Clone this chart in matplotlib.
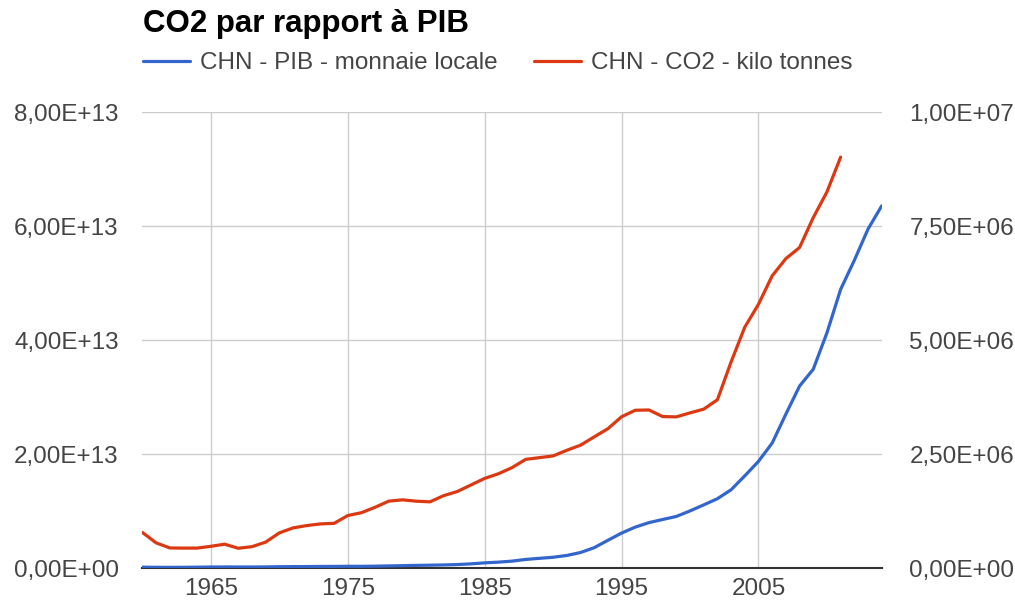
import matplotlib
matplotlib.use("Agg")
import matplotlib.pyplot as plt
import numpy as np

plt.rcParams['font.family'] = ['Liberation Sans', 'DejaVu Sans']

Title = "CO2 par rapport à PIB"
label_pib = "CHN - PIB - monnaie locale"
label_co2 = "CHN - CO2 - kilo tonnes"

# PIB, monnaie locale (1960-2014)
years_pib = np.arange(1960, 2015)
pib = np.array([
    1.457e11, 1.220e11, 1.149e11, 1.233e11, 1.454e11, 1.716e11, 1.868e11, 1.774e11, 1.723e11, 1.938e11,
    2.253e11, 2.426e11, 2.518e11, 2.721e11, 2.790e11, 2.997e11, 2.944e11, 3.202e11, 3.679e11, 4.100e11,
    4.588e11, 4.936e11, 5.373e11, 6.020e11, 7.279e11, 9.016e11, 1.0275e12, 1.2059e12, 1.5043e12, 1.6992e12,
    1.8867e12, 2.2006e12, 2.7194e12, 3.5673e12, 4.8638e12, 6.133e12, 7.1814e12, 7.9715e12, 8.5195e12, 9.0564e12,
    1.0028e13, 1.1086e13, 1.2172e13, 1.3742e13, 1.6184e13, 1.8732e13, 2.1944e13, 2.7023e13, 3.1952e13, 3.4908e13,
    4.1303e13, 4.8930e13, 5.4037e13, 5.9524e13, 6.3600e13,
])

# CO2, kilo tonnes (1960-2011)
years_co2 = np.arange(1960, 2012)
co2 = np.array([
    780726, 552066, 440359, 436695, 436923, 475972, 522894, 433238, 468079, 568001,
    771001, 879950, 931389, 968009, 980100, 1151349, 1214452, 1333656, 1468400, 1496106,
    1467007, 1452232, 1587800, 1679082, 1822868, 1967139, 2068662, 2203718, 2385434, 2422637,
    2460744, 2584538, 2695982, 2878694, 3058241, 3320285, 3463089, 3469510, 3324345, 3318052,
    3405180, 3487566, 3694242, 4525177, 5288166, 5790017, 6414463, 6791805, 7035444, 7692211,
    8256969, 9019518,
])

left_ticks = [0, 2e13, 4e13, 6e13, 8e13]
right_ticks = [0, 2.5e6, 5e6, 7.5e6, 1e7]
year_ticks = [1965, 1975, 1985, 1995, 2005]

def fmt(v):
    return ('%.2E' % v).replace('.', ',')

fig = plt.figure(figsize=(10.15, 6.09), dpi=100)
ax = fig.add_axes([142.4/1015, 1-568/609, (881.7-142.4)/1015, (568-112.5)/609])
ax2 = ax.twinx()

l1, = ax.plot(years_pib, pib, color='#3366cc', lw=2.3, solid_capstyle='round', zorder=3)
l2, = ax2.plot(years_co2, co2, color='#dc3912', lw=2.3, solid_capstyle='round', zorder=3)

ax.set_xlim(1960, 2014)
ax.set_ylim(0, 8e13)
ax2.set_ylim(0, 1e7)
ax.set_xticks(year_ticks)
ax.set_yticks(left_ticks)
ax.set_yticklabels([fmt(v) for v in left_ticks])
ax2.set_yticks(right_ticks)
ax2.set_yticklabels([fmt(v) for v in right_ticks])

ax.grid(True, color='#cccccc', lw=1)
ax.set_axisbelow(True)
for a in (ax, ax2):
    for s in a.spines.values():
        s.set_visible(False)
ax.spines['bottom'].set_visible(True)
ax.spines['bottom'].set_color('#333333')
ax.spines['bottom'].set_linewidth(1.5)
ax.spines['bottom'].set_zorder(2)

ax.tick_params(axis='y', length=0, pad=17, labelsize=17.5, labelcolor='#444444')
ax.tick_params(axis='x', length=0, pad=7, labelsize=17.5, labelcolor='#444444')
ax2.tick_params(axis='y', length=0, pad=20, labelsize=17.5, labelcolor='#444444')

fig.text(143/1015, 1-32/609, Title, fontsize=22.5, fontweight='bold', color='#000000', va='baseline', ha='left')

leg = fig.legend([l1, l2], [label_pib, label_co2], loc='center left',
                 bbox_to_anchor=(142.7/1015, 1-63/609), bbox_transform=fig.transFigure,
                 ncol=2, frameon=False, fontsize=17.5, handlelength=1.93, handletextpad=0.41,
                 columnspacing=1.5, borderpad=0, borderaxespad=0)
for t in leg.get_texts():
    t.set_color('#444444')

fig.savefig('out.png', dpi=100)
